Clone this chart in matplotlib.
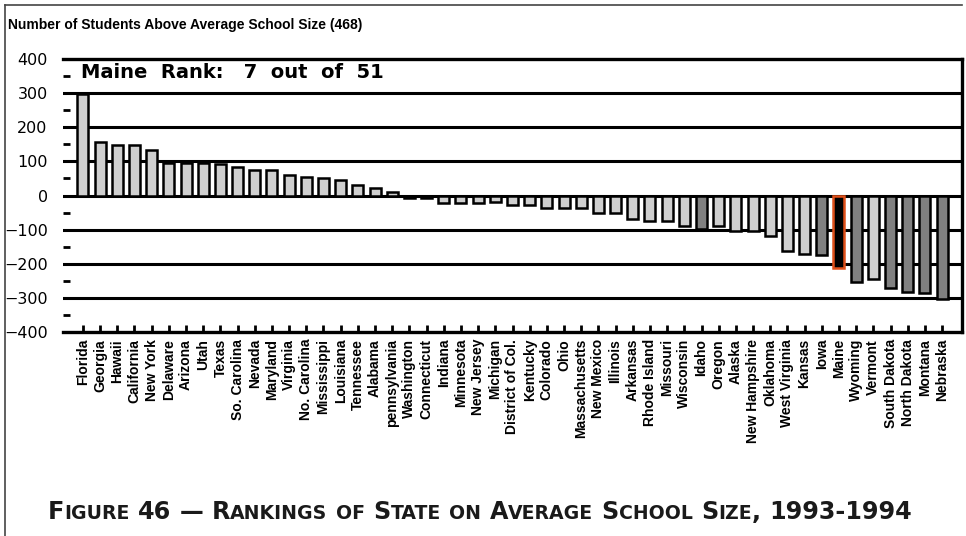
# school size rankings chart

import numpy as np
import matplotlib
matplotlib.use("Agg")
import matplotlib.pyplot as plt
import matplotlib.ticker as ticker
from matplotlib.lines import Line2D

states = ["Florida", "Georgia", "Hawaii", "California", "New York", "Delaware",
	"Arizona", "Utah", "Texas", "So. Carolina", "Nevada", "Maryland", "Virginia",
	"No. Carolina", "Mississippi", "Louisiana", "Tennessee", "Alabama",
	"pennsylvania", "Washington", "Connecticut", "Indiana", "Minnesota",
	"New Jersey", "Michigan", "District of Col.", "Kentucky", "Colorado", "Ohio",
	"Massachusetts", "New Mexico", "Illinois", "Arkansas", "Rhode Island",
	"Missouri", "Wisconsin", "Idaho", "Oregon", "Alaska", "New Hampshire",
	"Oklahoma", "West Virginia", "Kansas", "Iowa", "Maine", "Wyoming", "Vermont",
	"South Dakota", "North Dakota", "Montana", "Nebraska"]

above_avg = [298, 158, 149, 149, 134, 96, 96, 96, 91, 83, 76, 76, 61, 55, 52,
	45, 32, 22, 10, -7, -7, -21, -21, -21, -19, -28, -28, -36, -36, -36, -51,
	-51, -70, -75, -75, -90, -99, -90, -104, -104, -119, -163, -171, -175, -211,
	-253, -244, -270, -282, -287, -302]

# states drawn in the darker shade, and the featured state
peer_states = ["Idaho", "Iowa", "Wyoming", "South Dakota", "North Dakota", "Montana", "Nebraska"]
focus_state = "Maine"

title = "Number of Students Above Average School Size (468)"
rank_note = "Maine  Rank:   7  out  of  51"
caption = "Figure 46 \u2014 Rankings of State on Average School Size, 1993-1994"


def small_caps(fig, x0, y0, text, big, small, **kw):
	# fake small caps: lowercase runs drawn as smaller capitals
	r = fig.canvas.get_renderer()
	fw = fig.bbox.width

	def width(s, size):
		t = fig.text(0, 0, s, fontsize=size, **kw)
		w = t.get_window_extent(renderer=r).width
		t.remove()
		return w

	space = (width("A A", big) - width("AA", big)) / fw
	x = x0
	for i, word in enumerate(text.split(" ")):
		if i:
			x += space
		runs = []
		for c in word:
			low = c.islower()
			if runs and runs[-1][1] == low:
				runs[-1][0] += c
			else:
				runs.append([c, low])
		for s, low in runs:
			size = small if low else big
			t = fig.text(x, y0, s.upper(), fontsize=size, ha="left", va="baseline", **kw)
			x += t.get_window_extent(renderer=r).width / fw
	return x


def main():
	fig = plt.figure(figsize=(9.66, 5.36), dpi=100)
	ax = fig.add_axes([63 / 966, 1 - 332 / 536, (962 - 63) / 966, (332 - 59) / 536])

	x = np.arange(len(states))
	colors = []
	edges = []
	for s in states:
		if s == focus_state:
			colors.append("black")
			edges.append("#e0501a")
		elif s in peer_states:
			colors.append("#808080")
			edges.append("black")
		else:
			colors.append("#cfcfcf")
			edges.append("black")

	ax.bar(x, above_avg, width=0.64, color=colors, edgecolor=edges, linewidth=1.8, zorder=3)

	ax.set_xlim(-1.16, len(states) - 1 + 1.16)
	ax.set_ylim(-400, 400)

	# heavy horizontal rules
	for v in range(-300, 400, 100):
		ax.axhline(v, color="black", linewidth=2.2, zorder=1)

	for side in ["top", "right", "bottom"]:
		ax.spines[side].set_linewidth(2.4)
	ax.spines["left"].set_visible(False)

	ax.yaxis.set_major_locator(ticker.MultipleLocator(100))
	ax.yaxis.set_minor_locator(ticker.MultipleLocator(50))
	ax.tick_params(axis="y", which="major", length=0, pad=11, labelsize=11.5)
	ax.tick_params(axis="y", which="minor", direction="in", length=5, width=2)
	for lab in ax.get_yticklabels():
		lab.set_family("DejaVu Sans")

	ax.set_xticks(x)
	ax.set_xticklabels(states, rotation=90, fontsize=10, fontweight="bold", family="Liberation Sans")
	ax.tick_params(axis="x", direction="in", length=5, width=2, pad=5)

	ax.text(0.02, 0.985, rank_note, transform=ax.transAxes, ha="left", va="top",
		fontsize=14, fontweight="bold", family="DejaVu Sans", zorder=5)

	fig.text(8 / 966, 1 - 29 / 536, title, ha="left", va="baseline",
		fontsize=10, fontweight="bold", family="Liberation Sans")

	small_caps(fig, 48 / 966, 1 - 519 / 536, caption, 17.2, 13.6,
		family="DejaVu Sans", fontweight="bold", color="#1a1a1a")

	# page frame, left and top edges only
	fig.add_artist(Line2D([5 / 966, 5 / 966], [0, 1 - 5 / 536], color="#444444", linewidth=1.2))
	fig.add_artist(Line2D([5 / 966, 962 / 966], [1 - 5 / 536, 1 - 5 / 536], color="#444444", linewidth=1.2))

	plt.savefig("out.png", dpi=100)


if __name__ == '__main__':
	main()
